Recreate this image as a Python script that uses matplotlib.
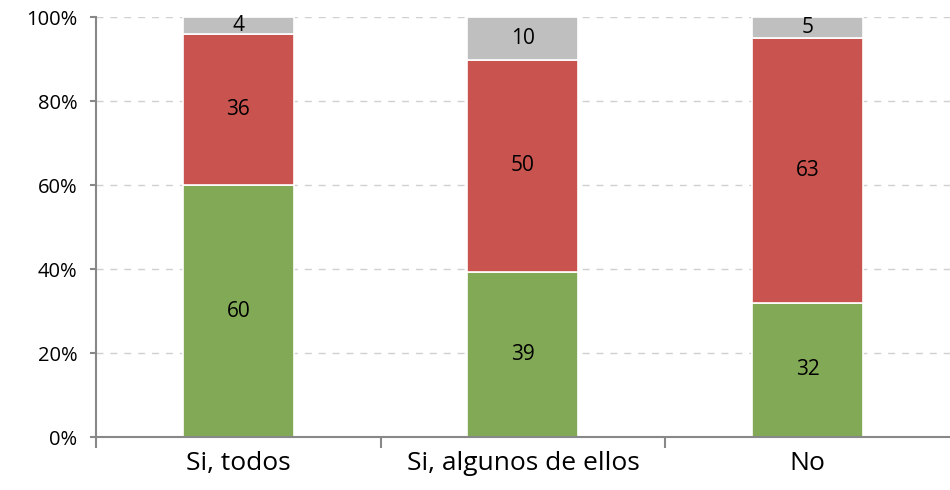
import matplotlib
matplotlib.use("Agg")
import matplotlib.pyplot as plt
import numpy as np

categories = ["Si, todos", "Si, algunos de ellos", "No"]
green = [60, 39, 32]
red = [36, 50, 63]
grey = [4, 10, 5]
yticks = [0, 20, 40, 60, 80, 100]

plt.rcParams['font.family'] = ['Open Sans', 'DejaVu Sans']

fig = plt.figure(figsize=(9.5, 4.9), dpi=100)
ax = fig.add_axes([0.101, 0.108, 0.899, 0.857])

g = np.array(green, float); r = np.array(red, float); k = np.array(grey, float)
tot = g + r + k
gp, rp, kp = g / tot * 100, r / tot * 100, k / tot * 100
x = np.arange(len(categories))
w = 0.39
cols = ["#82A956", "#C9534F", "#BFBFBF"]
bottom = np.zeros(len(x))
for vals, pct, c in [(g, gp, cols[0]), (r, rp, cols[1]), (k, kp, cols[2])]:
    ax.bar(x, pct, w, bottom=bottom, color=c, edgecolor="white", linewidth=1.2, zorder=3)
    for xi, b, p, v in zip(x, bottom, pct, vals):
        ax.text(xi, b + p / 2, f"{int(v)}", ha="center", va="center", fontsize=15, color="black", zorder=4)
    bottom = bottom + pct

ax.set_xlim(-0.5, 2.5)
ax.set_ylim(0, 100)
ax.set_yticks(yticks)
ax.set_yticklabels([f"{t}%" for t in yticks], fontsize=14.5)
ax.set_xticks(x)
ax.set_xticklabels(categories, fontsize=19)
ax.tick_params(axis='x', which='major', length=0, pad=10)
ax.set_xticks([-0.5, 0.5, 1.5], minor=True)
ax.tick_params(axis='x', which='minor', length=8, color="#888888", width=1.5)
ax.tick_params(axis='y', length=4.5, color="#888888", width=1.5, pad=9)
ax.yaxis.grid(True, linestyle=(0, (5, 5)), color="#D0D0D0", linewidth=1, zorder=0)
for s in ["top", "right"]:
    ax.spines[s].set_visible(False)
for s in ["left", "bottom"]:
    ax.spines[s].set_color("#888888")
    ax.spines[s].set_linewidth(1.5)
    ax.spines[s].set_zorder(5)

fig.savefig("out.png", dpi=100)
